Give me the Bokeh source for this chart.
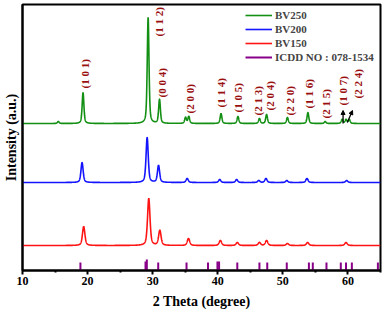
import numpy as np
from bokeh.plotting import figure
from bokeh.models import Range1d, Legend, LegendItem, Arrow, NormalHead, ColumnDataSource, FixedTicker
from bokeh.core.properties import value
from bokeh.embed import file_html
from bokeh.resources import INLINE

# ---- data ----
series_names = ["BV250", "BV200", "BV150"]
offsets = [147, 88, 25]

bv250_pos = [15.5, 19.3, 29.3, 31.05, 35.05, 35.55, 40.5, 43.1, 46.4, 47.5, 50.7, 53.85, 56.5, 59.1, 59.7, 60.2]
bv250_h   = [2, 31, 106, 24, 6, 7, 10, 7, 5, 9, 6, 11, 2, 4, 4, 4]
bv200_pos = [19.15, 29.15, 30.9, 35.3, 40.3, 42.9, 46.3, 47.4, 50.6, 53.7, 59.8]
bv200_h   = [20, 45, 17, 4, 3, 3, 2, 4, 2, 4, 2]
bv150_pos = [19.4, 29.4, 31.1, 35.5, 40.4, 43.0, 46.4, 47.5, 50.7, 53.8, 59.7]
bv150_h   = [19, 47, 15, 7, 5, 3, 3, 5, 2, 3, 3]
widths = [0.32, 0.4, 0.45]

icdd_pos = [18.9, 28.9, 29.1, 30.85, 35.2, 38.5, 39.95, 40.2, 43.0, 46.4, 47.6, 50.6, 54.0, 54.6, 56.7, 58.9, 59.7, 60.6, 64.6]
icdd_h   = [8, 9, 11, 8, 8, 8, 9, 9, 8, 8, 8, 8, 8, 8, 8, 8, 8, 8, 8]

hkl_labels = ["(1 0 1)", "(1 1 2)", "(0 0 4)", "(2 0 0)", "(1 1 4)", "(1 0 5)", "(2 1 3)",
              "(2 0 4)", "(2 2 0)", "(1 1 6)", "(2 1 5)", "(1 0 7)", "(2 2 4)"]
hkl_x = [19.55, 31.0, 31.5, 35.8, 40.5, 43.1, 46.2, 48.0, 51.1, 54.0, 56.6, 59.2, 61.5]
hkl_y = [182, 234, 173, 157, 163, 158, 155, 160, 155, 162, 152, 165, 172]

x_title = "2 Theta (degree)"
y_title = "Intensity (a.u.)"

colors = ["#139013", "#1414ff", "#ff1414"]
icdd_color = "#880088"
serif = "Liberation Serif"

x = np.arange(10, 65.001, 0.02)

def profile(pos, h, w, base):
    y = np.full_like(x, float(base))
    g = w / 2.0
    for p0, a in zip(pos, h):
        lor = 1.0 / (1.0 + ((x - p0) / g) ** 2)
        gau = np.exp(-np.log(2) * ((x - p0) / g) ** 2)
        y += a * (0.5 * lor + 0.5 * gau)
    return y

p = figure(width=387, height=313, output_backend="svg", toolbar_location=None,
           x_range=Range1d(10, 65), y_range=Range1d(0, 266),
           min_border_left=22, min_border_right=7, min_border_top=4, min_border_bottom=43)
p.background_fill_color = "white"
p.border_fill_color = "white"
p.xgrid.visible = False
p.ygrid.visible = False
p.outline_line_color = "black"
p.outline_line_width = 2
p.outline_line_alpha = 1

renderers = []
for pos, h, w, base, c in zip([bv250_pos, bv200_pos, bv150_pos], [bv250_h, bv200_h, bv150_h], widths, offsets, colors):
    r = p.line(x, profile(pos, h, w, base), line_color=c, line_width=1.6)
    renderers.append(r)

src = ColumnDataSource(dict(x=icdd_pos, y0=[0] * len(icdd_pos), y1=icdd_h))
ricdd = p.segment(x0="x", y0="y0", x1="x", y1="y1", source=src, line_color=icdd_color, line_width=2)

p.text(x=hkl_x, y=hkl_y, text=hkl_labels, angle=np.pi / 2, text_align="left",
       text_baseline="middle", text_color="#9a1010", text_font=value(serif),
       text_font_style="bold", text_font_size="11px")

for (x0, y0, x1, y1) in [(59.25, 147, 59.25, 160), (59.9, 148, 60.7, 160)]:
    p.add_layout(Arrow(end=NormalHead(size=4, fill_color="black", line_color="black"),
                       x_start=x0, y_start=y0, x_end=x1, y_end=y1,
                       line_color="black", line_width=1.3))

# axes
p.xaxis.ticker = FixedTicker(ticks=[10, 20, 30, 40, 50, 60], minor_ticks=[15, 25, 35, 45, 55, 65])
p.xaxis.axis_label = x_title
p.xaxis.axis_line_width = 2
p.xaxis.major_tick_line_width = 2
p.xaxis.major_tick_out = 4
p.xaxis.major_tick_in = 0
p.xaxis.minor_tick_out = 2
p.xaxis.minor_tick_in = 0
p.xaxis.minor_tick_line_width = 2
p.xaxis.major_label_text_font = serif
p.xaxis.major_label_text_font_style = "bold"
p.xaxis.major_label_text_font_size = "12px"
p.xaxis.major_label_text_color = "black"
p.xaxis.major_label_text_line_height = 1.0
p.xaxis.major_label_standoff = 2
p.xaxis.axis_label_text_font = serif
p.xaxis.axis_label_text_font_style = "bold"
p.xaxis.axis_label_text_font_size = "14px"
p.xaxis.axis_label_text_color = "black"
p.xaxis.axis_label_text_line_height = 0.6
p.xaxis.axis_label_standoff = 6

p.yaxis.ticker = FixedTicker(ticks=[])
p.yaxis.axis_label = y_title
p.yaxis.axis_line_width = 2
p.yaxis.axis_label_text_font = serif
p.yaxis.axis_label_text_font_style = "bold"
p.yaxis.axis_label_text_font_size = "14px"
p.yaxis.axis_label_text_color = "black"
p.yaxis.axis_label_standoff = 4
p.yaxis.major_label_text_font_size = "0px"

legend = Legend(items=[LegendItem(label=n, renderers=[r]) for n, r in zip(series_names, renderers)] +
                [LegendItem(label="ICDD NO : 078-1534", renderers=[ricdd])],
                location=(223, 206), padding=0, margin=0, spacing=0,
                glyph_width=27, glyph_height=14, label_height=14, label_standoff=3,
                label_text_font=serif, label_text_font_style="bold", label_text_font_size="11px",
                border_line_alpha=0, background_fill_alpha=0)
p.add_layout(legend, "center")

open("out.html", "w").write(file_html(p, INLINE))
